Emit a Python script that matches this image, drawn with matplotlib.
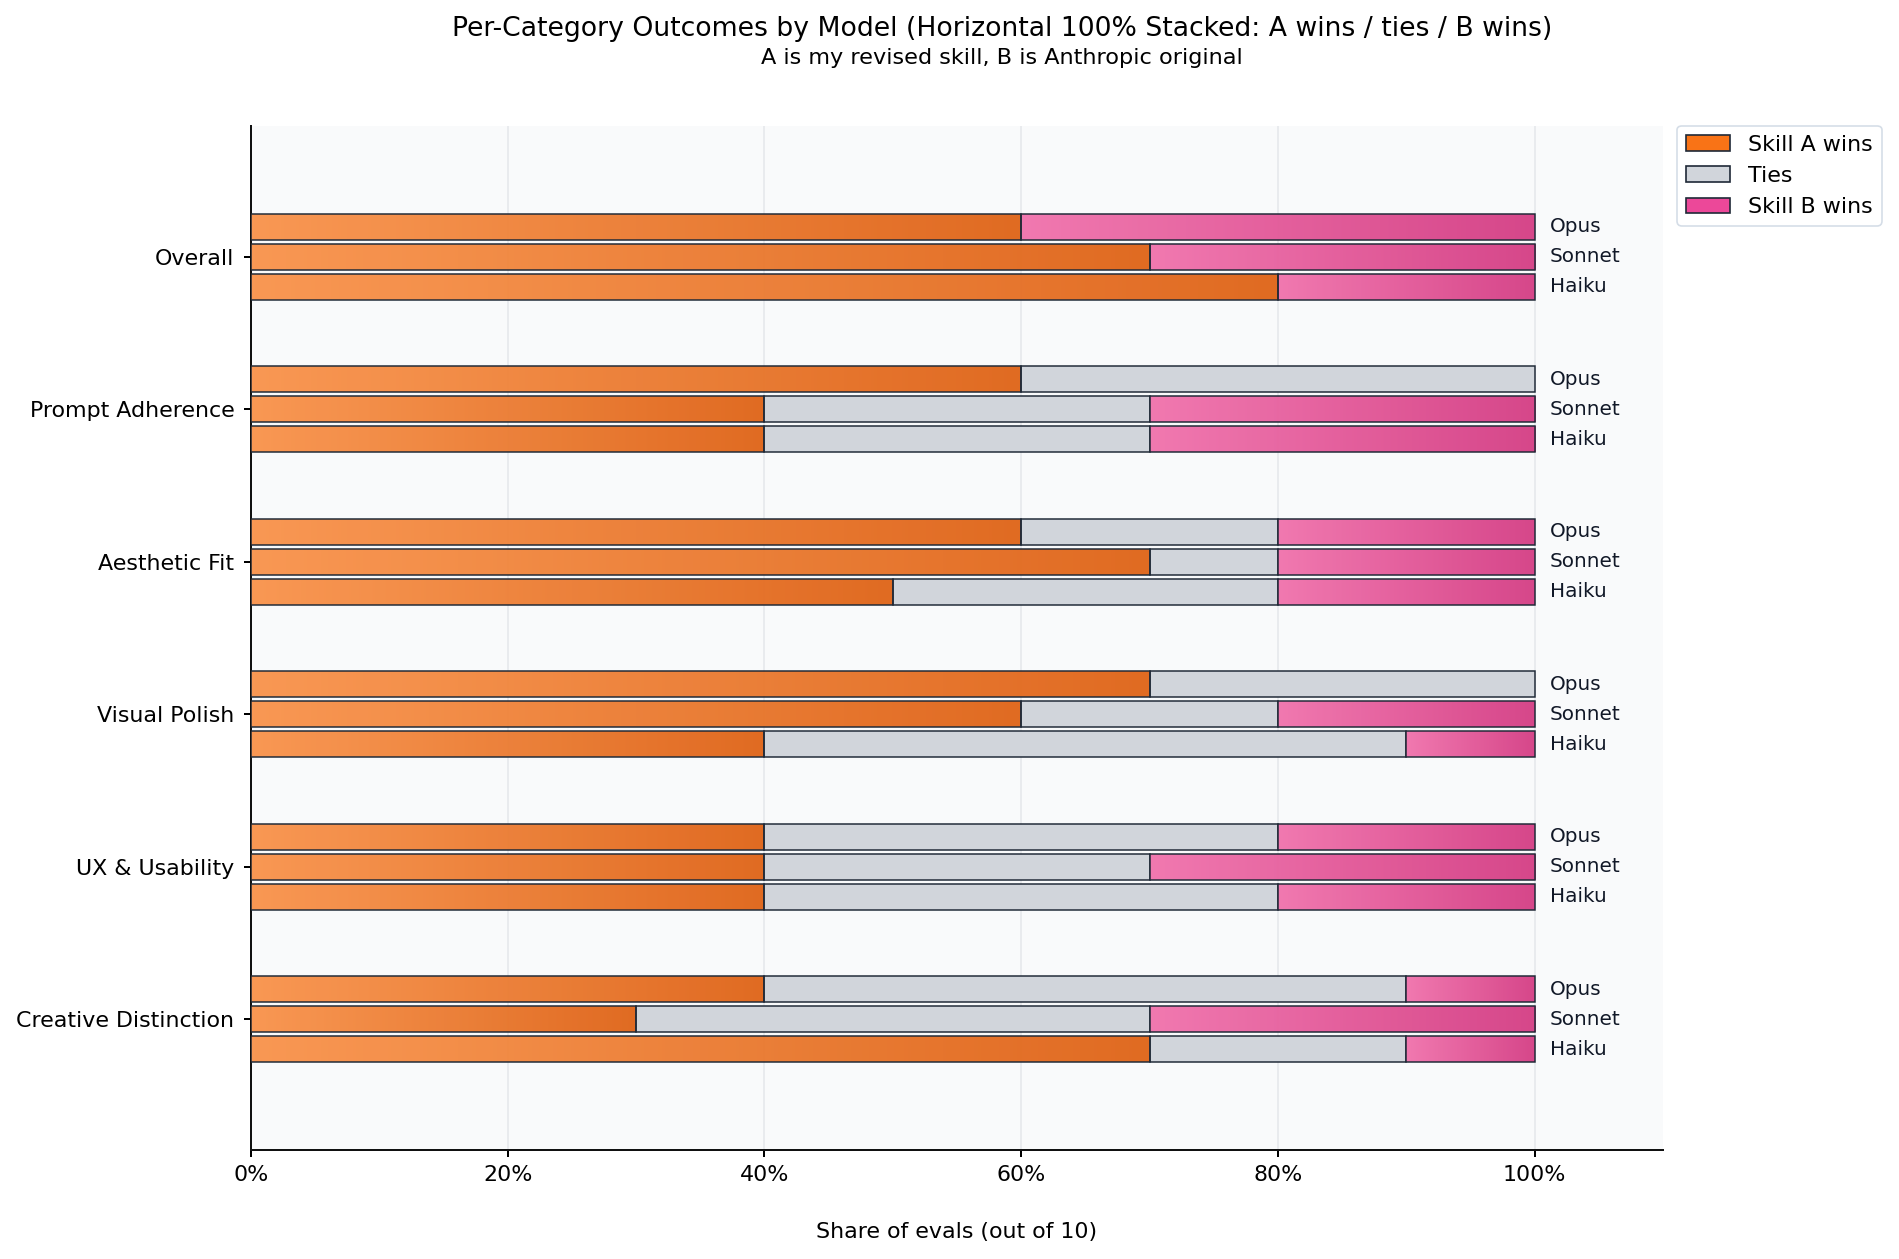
import numpy as np
import matplotlib
matplotlib.use("Agg")
import matplotlib.pyplot as plt
from matplotlib.colors import LinearSegmentedColormap
from matplotlib.patches import Patch

# ---- data (counts out of 10) ----
categories = ["Overall", "Prompt Adherence", "Aesthetic Fit", "Visual Polish",
              "UX & Usability", "Creative Distinction"]
models = ["Opus", "Sonnet", "Haiku"]

a_wins = {
    "Opus":   [6, 6, 6, 7, 4, 4],
    "Sonnet": [7, 4, 7, 6, 4, 3],
    "Haiku":  [8, 4, 5, 4, 4, 7],
}
ties = {
    "Opus":   [0, 4, 2, 3, 4, 5],
    "Sonnet": [0, 3, 1, 2, 3, 4],
    "Haiku":  [0, 3, 3, 5, 4, 2],
}
b_wins = {
    "Opus":   [4, 0, 2, 0, 2, 1],
    "Sonnet": [3, 3, 2, 2, 3, 3],
    "Haiku":  [2, 3, 2, 1, 2, 1],
}
n_evals = 10

# ---- styling ----
col_a = "#F97316"
col_t = "#D1D5DB"
col_b = "#EC4899"
edge = "#1F2937"
cmap_a = LinearSegmentedColormap.from_list("a", ["#F9934B", "#DF6316"])
cmap_b = LinearSegmentedColormap.from_list("b", ["#F172AC", "#D53D84"])
grad = np.linspace(0, 1, 256).reshape(1, -1)

fig = plt.figure(figsize=(1899 / 120, 1259 / 120), dpi=120)
ax = fig.add_axes([251 / 1899, 1 - 1150 / 1259, (1663 - 251) / 1899, (1150 - 126) / 1259])
ax.set_facecolor("#F9FAFB")

offset = 0.196
bar_h = 0.17


def seg(y, left, width, kind):
    if width <= 0:
        return
    if kind == "t":
        ax.barh(y, width, left=left, height=bar_h, color=col_t,
                edgecolor=edge, linewidth=0.9, zorder=3)
        return
    cm = cmap_a if kind == "a" else cmap_b
    bar = ax.barh(y, width, left=left, height=bar_h, color="none",
                  edgecolor=edge, linewidth=0.9, zorder=4)[0]
    im = ax.imshow(grad, cmap=cm, aspect="auto", alpha=0.95, zorder=3,
                   extent=[left, left + width, y + bar_h / 2, y - bar_h / 2])
    im.set_clip_path(bar)


for ci, cat in enumerate(categories):
    for mi, m in enumerate(models):
        y = ci + (mi - 1) * offset
        a = a_wins[m][ci] / n_evals * 100
        t = ties[m][ci] / n_evals * 100
        b = b_wins[m][ci] / n_evals * 100
        seg(y, 0, a, "a")
        seg(y, a, t, "t")
        seg(y, a + t, b, "b")
        ax.text(101.2, y, m, va="center", ha="left", fontsize=12, color="#111827")

ax.set_xlim(0, 110)
ax.set_ylim(len(categories) - 1 + 0.857, -0.857)
ax.set_yticks(range(len(categories)))
ax.set_yticklabels(categories, fontsize=13.3)
ax.set_xticks([0, 20, 40, 60, 80, 100])
ax.set_xticklabels(["0%", "20%", "40%", "60%", "80%", "100%"], fontsize=13.3)
ax.tick_params(axis="y", pad=6, length=4, width=1.2)
ax.tick_params(axis="x", length=4, width=1.2, pad=5)
ax.set_xlabel("Share of evals (out of 10)", fontsize=13.3, labelpad=22)
ax.grid(axis="x", color="#E5E7EB", linewidth=0.9, zorder=0)
ax.set_axisbelow(True)
for s in ["top", "right"]:
    ax.spines[s].set_visible(False)
for s in ["left", "bottom"]:
    ax.spines[s].set_color("#111111")
    ax.spines[s].set_linewidth(1.2)

handles = [Patch(facecolor=col_a, edgecolor=edge, label="Skill A wins"),
           Patch(facecolor=col_t, edgecolor=edge, label="Ties"),
           Patch(facecolor=col_b, edgecolor=edge, label="Skill B wins")]
leg = ax.legend(handles=handles, loc="upper left", bbox_to_anchor=(1.01, 1.0),
                fontsize=13.3, frameon=True, borderaxespad=0)
leg.get_frame().set_edgecolor("#CBD5E1")

fig.text(0.5277, 1 - 29.5 / 1259, "Per-Category Outcomes by Model (Horizontal 100% Stacked: A wins / ties / B wins)",
         ha="center", va="center", fontsize=16)
fig.text(0.5277, 1 - 58 / 1259, "A is my revised skill, B is Anthropic original",
         ha="center", va="center", fontsize=13.4)

fig.savefig("out.png", dpi=120)
